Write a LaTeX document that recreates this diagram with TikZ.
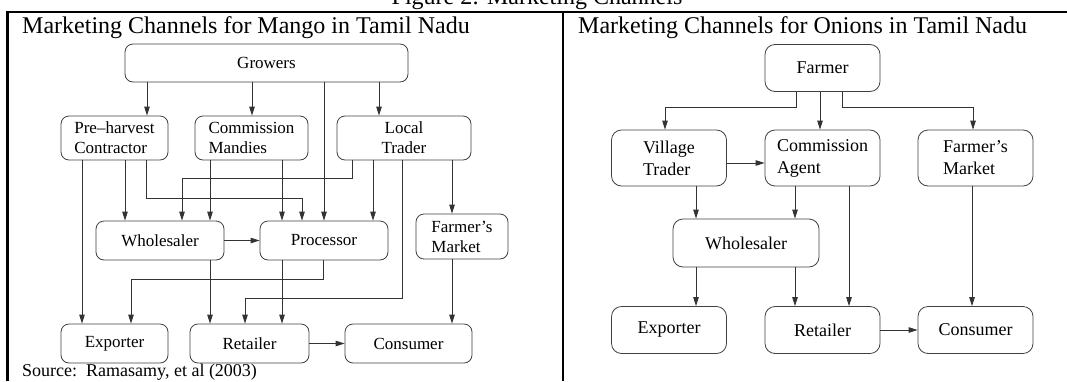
\documentclass[tikz,border=0pt]{standalone}
\usepackage{fontspec}
\setmainfont{Liberation Serif}
\usetikzlibrary{arrows.meta}
\tikzset{
  box/.style={draw=black!75, line width=0.8pt, rounded corners=8pt, inner sep=0pt, align=left},
  mbox/.style={box, font=\fontsize{17}{20}\selectfont},
  obox/.style={box, rounded corners=10pt, font=\fontsize{18}{22}\selectfont},
  arr/.style={draw=black!80, line width=0.8pt, -{Triangle[length=9pt,width=5.5pt]}},
  frame/.style={line width=2.6pt, black},
  ttl/.style={anchor=base west, inner sep=0pt, font=\fontsize{24}{24}\selectfont}
}
\begin{document}
\begin{tikzpicture}[x=1pt,y=-1pt]
\useasboundingbox (0,0) rectangle (1067,381);
% frame
\draw[frame] (7.5,381) -- (7.5,12) -- (1067,12);
\draw[frame] (563,12) -- (563,381);
\node[anchor=base, inner sep=0pt, font=\fontsize{24}{24}\selectfont] (cap) at (537,4) {Figure 2: Marketing Channels};
\node[ttl] (t1) at (22,33) {Marketing Channels for Mango in Tamil Nadu};
\node[ttl] (t2) at (578,33) {Marketing Channels for Onions in Tamil Nadu};
\node[anchor=base west, inner sep=0pt, font=\fontsize{18}{18}\selectfont] (src) at (22,376) {Source:\ \ Ramasamy, et al (2003)};

% mango nodes
\node[mbox, minimum width=283pt, minimum height=38pt] (gro) at (266.5,63) {Growers};
\node[mbox, minimum width=107pt, minimum height=44pt] (pre) at (114.5,138) {Pre–harvest\\Contractor};
\node[mbox, minimum width=113pt, minimum height=44pt] (cm) at (251.5,138) {Commission\\Mandies};
\node[mbox, minimum width=134pt, minimum height=44pt, align=center] (lt) at (404,138) {Local\\Trader};
\node[mbox, minimum width=128pt, minimum height=39pt] (wh) at (160,240.5) {Wholesaler};
\node[mbox, minimum width=128pt, minimum height=39pt] (pr) at (324,240.5) {Processor};
\node[mbox, minimum width=92pt, minimum height=45pt] (fm) at (462,236.5) {Farmer’s\\Market};
\node[mbox, minimum width=107pt, minimum height=39pt] (ex) at (114.5,343.5) {Exporter};
\node[mbox, minimum width=119pt, minimum height=39pt] (re) at (249.5,343.5) {Retailer};
\node[mbox, minimum width=127pt, minimum height=39pt] (co) at (408.5,343.5) {Consumer};

% mango edges
\draw[arr] (gro.south -| 147,0) -- (pre.north -| 147,0);
\draw[arr] (gro.south -| 252,0) -- (cm.north -| 252,0);
\draw[arr] (gro.south -| 379,0) -- (lt.north -| 379,0);
\draw[arr] (gro.south -| 324,0) -- (pr.north -| 324,0);
\draw[arr] (pre.south -| 82,0) -- (ex.north -| 82,0);
\draw[arr] (pre.south -| 125,0) -- (wh.north -| 125,0);
\draw[arr] (pre.south -| 146,0) -- (146,198) -- (302,198) -- (pr.north -| 302,0);
\draw[arr] (lt.south -| 352,0) -- (352,178) -- (182,178) -- (wh.north -| 182,0);
\draw[arr] (cm.south -| 210,0) -- (wh.north -| 210,0);
\draw[arr] (cm.south -| 282,0) -- (pr.north -| 282,0);
\draw[arr] (lt.south -| 373,0) -- (pr.north -| 373,0);
\draw[arr] (lt.south -| 402,0) -- (402,298) -- (245,298) -- (re.north -| 245,0);
\draw[arr] (lt.south -| 452,0) -- (fm.north -| 452,0);
\draw[arr] (wh) -- (pr);
\draw[arr] (wh.south -| 210,0) -- (re.north -| 210,0);
\draw[arr] (pr.south -| 282,0) -- (re.north -| 282,0);
\draw[arr] (pr.south -| 323,0) -- (323,279) -- (131,279) -- (ex.north -| 131,0);
\draw[arr] (fm.south -| 452,0) -- (co.north -| 452,0);
\draw[arr] (re) -- (co);

% onion nodes
\node[obox, minimum width=115pt, minimum height=47pt] (fa) at (822.5,68) {Farmer};
\node[obox, minimum width=115pt, minimum height=56pt] (vt) at (669,158) {Village\\Trader};
\node[obox, minimum width=115pt, minimum height=56pt] (ca) at (822.5,158) {Commission\\Agent};
\node[obox, minimum width=115pt, minimum height=56pt] (fm2) at (975.5,158) {Farmer’s\\Market};
\node[obox, minimum width=146pt, minimum height=48pt] (wh2) at (746,243) {Wholesaler};
\node[obox, minimum width=115pt, minimum height=47pt] (ex2) at (669,330) {Exporter};
\node[obox, minimum width=115pt, minimum height=47pt] (re2) at (822.5,330) {Retailer};
\node[obox, minimum width=115pt, minimum height=47pt] (co2) at (975.5,330) {Consumer};

% onion edges
\draw[arr] (fa.south -| 796,0) -- (796,107) -- (665,107) -- (vt.north -| 665,0);
\draw[arr] (fa.south -| 820,0) -- (ca.north -| 820,0);
\draw[arr] (fa.south -| 842,0) -- (842,107) -- (973,107) -- (fm2.north -| 973,0);
\draw[arr] (vt.east |- 0,163) -- (ca.west |- 0,163);
\draw[arr] (vt.south -| 696,0) -- (wh2.north -| 696,0);
\draw[arr] (ca.south -| 795,0) -- (wh2.north -| 795,0);
\draw[arr] (ca.south -| 849,0) -- (re2.north -| 849,0);
\draw[arr] (fm2.south -| 972,0) -- (co2.north -| 972,0);
\draw[arr] (wh2.south -| 696,0) -- (ex2.north -| 696,0);
\draw[arr] (wh2.south -| 795,0) -- (re2.north -| 795,0);
\draw[arr] (re2) -- (co2);
\end{tikzpicture}
\end{document}
